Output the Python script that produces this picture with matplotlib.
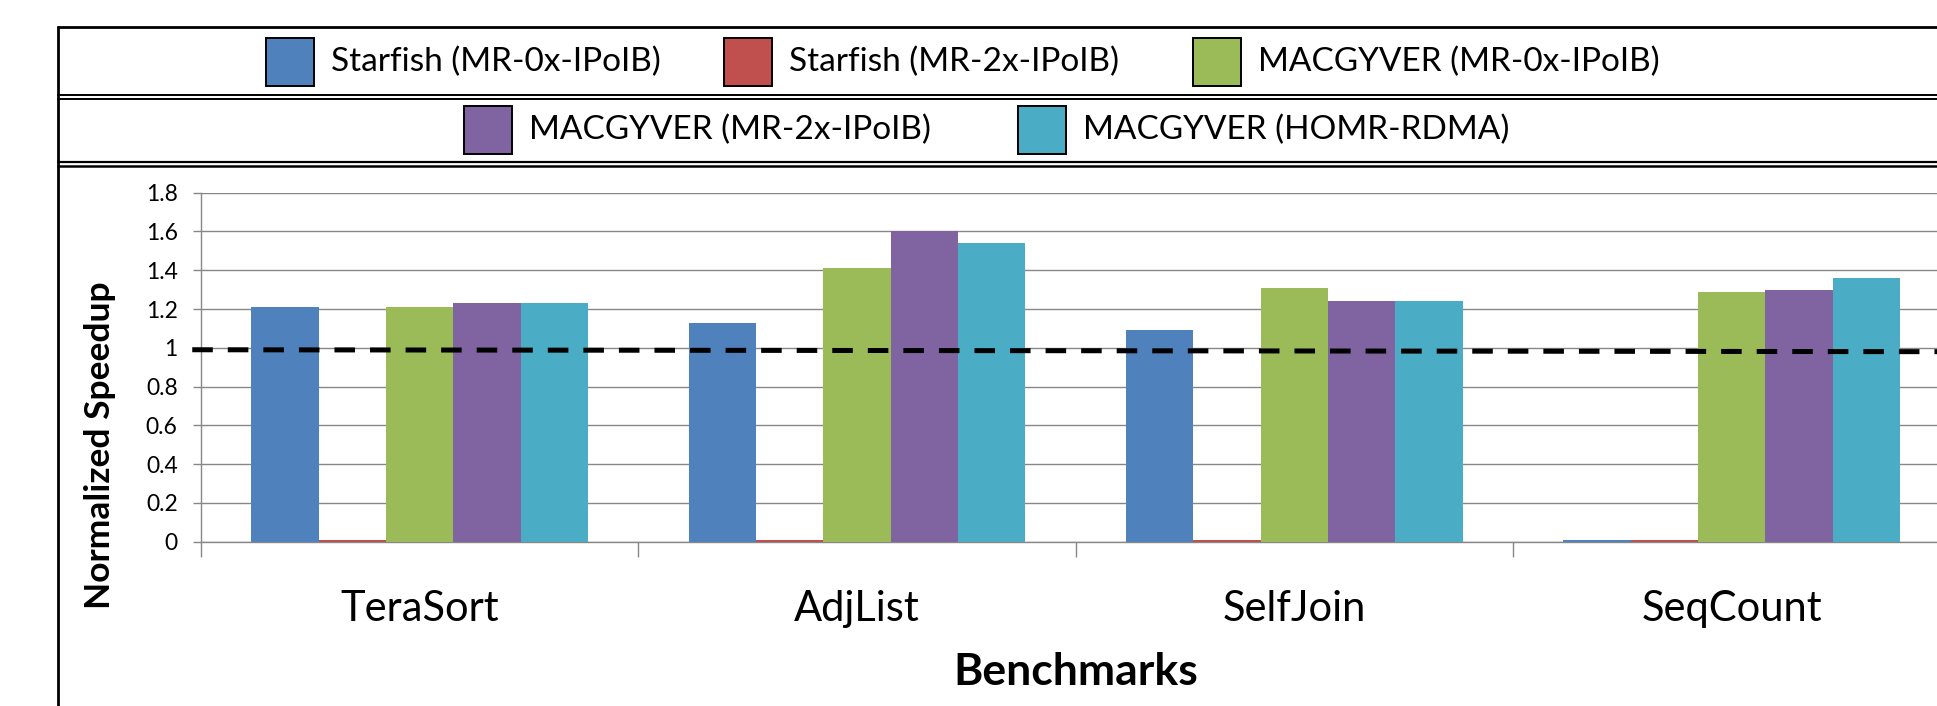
import matplotlib
matplotlib.use("Agg")
import matplotlib.pyplot as plt
import numpy as np
from matplotlib.lines import Line2D
from matplotlib.patches import Rectangle

plt.rcParams['font.family'] = ['Lato', 'DejaVu Sans']
plt.rcParams['lines.scale_dashes'] = False

# ---- data ----
categories = ["TeraSort", "AdjList", "SelfJoin", "SeqCount"]
series_names = ["Starfish (MR-0x-IPoIB)", "Starfish (MR-2x-IPoIB)",
                "MACGYVER (MR-0x-IPoIB)", "MACGYVER (MR-2x-IPoIB)",
                "MACGYVER (HOMR-RDMA)"]
starfish_mr0 = [1.21, 1.13, 1.09, 0.01]
starfish_mr2 = [0.01, 0.01, 0.01, 0.01]
macgyver_mr0 = [1.21, 1.41, 1.31, 1.29]
macgyver_mr2 = [1.23, 1.60, 1.24, 1.30]
macgyver_homr = [1.23, 1.54, 1.24, 1.36]
baseline = [0.99, 0.98]
yticks = [0, 0.2, 0.4, 0.6, 0.8, 1, 1.2, 1.4, 1.6, 1.8]
ytick_labels = ["0", "0.2", "0.4", "0.6", "0.8", "1", "1.2", "1.4", "1.6", "1.8"]

series = [starfish_mr0, starfish_mr2, macgyver_mr0, macgyver_mr2, macgyver_homr]
colors = ["#4F81BD", "#C0504D", "#9BBB59", "#8064A2", "#4BACC6"]

W, H = 1937, 706
fig = plt.figure(figsize=(W / 100, H / 100), dpi=100)

def fx(x):
    return x / W

def fy(y):
    return 1 - y / H

# plot area (pixel geometry)
ax_left, ax_right = 201, 201 + 4 * 437.3
ax_top, ax_bot = 192.7, 541.7
ax = fig.add_axes([fx(ax_left), fy(ax_bot), (ax_right - ax_left) / W, (ax_bot - ax_top) / H])

x = np.arange(len(categories))
bw = 0.154
for i, (vals, c, name) in enumerate(zip(series, colors, series_names)):
    ax.bar(x + (i - 2) * bw, vals, width=bw, color=c, linewidth=0, label=name, zorder=3)

ax.plot([-0.52, 3.5], baseline, color="black", lw=3.6, dashes=(14.8, 10.8),
        solid_capstyle="butt", dash_capstyle="butt", zorder=4, clip_on=False)

grid_c = "#878787"
ax.set_xlim(-0.5, 3.5)
ax.set_ylim(0, 1.8)
ax.set_yticks(yticks)
ax.set_yticklabels(ytick_labels)
ax.yaxis.grid(True, color=grid_c, lw=1.0, zorder=0)
ax.set_axisbelow(True)
for s in ["top", "right"]:
    ax.spines[s].set_visible(False)
for s in ["left", "bottom"]:
    ax.spines[s].set_color(grid_c)
    ax.spines[s].set_linewidth(1.0)
ax.tick_params(axis="y", direction="out", length=5.8, width=1.0, color=grid_c,
               pad=11, labelsize=16.5, labelcolor="black")
ax.set_xticks(x)
ax.set_xticklabels(categories)
ax.set_xticks(np.arange(-0.5, 4.0, 1.0), minor=True)
ax.tick_params(axis="x", which="major", length=0, pad=35, labelsize=30)
ax.tick_params(axis="x", which="minor", direction="out", length=10.8, width=1.0, color=grid_c)

ax.set_xlabel("Benchmarks", fontsize=32, fontweight="bold")
ax.xaxis.set_label_coords(0.5, (fy(672) - fy(ax_bot)) / ((ax_bot - ax_top) / H))
ax.xaxis.label.set_va("center")
ax.set_ylabel("Normalized Speedup", fontsize=25.5, fontweight="bold")
ax.yaxis.set_label_coords((100 - ax_left) / (ax_right - ax_left),
                          (fy(445) - fy(ax_bot)) / ((ax_bot - ax_top) / H))
ax.yaxis.label.set_va("center")
ax.yaxis.label.set_ha("center")

# ---- outer frame and legend rows ----
def hline(y, x0, x1, lw, color="black"):
    fig.add_artist(Line2D([fx(x0), fx(x1)], [fy(y), fy(y)], transform=fig.transFigure,
                          color=color, lw=lw, solid_capstyle="butt"))

hline(27, 57, W + 5, 2.0)
hline(94.5, 57, W + 5, 1.4)
hline(98.5, 57, W + 5, 1.4)
hline(162, 57, W + 5, 1.6)
hline(166, 57, W + 5, 1.8)
fig.add_artist(Line2D([fx(58), fx(58)], [fy(26), fy(H + 5)], transform=fig.transFigure,
                      color="black", lw=2.0, solid_capstyle="butt"))

# legend entries: (patch left x, row center y)
legend_pos = [(266, 62), (724, 62), (1193, 62), (464, 130), (1018, 130)]
psz = 48
for (px, py), c, name in zip(legend_pos, colors, series_names):
    fig.add_artist(Rectangle((fx(px), fy(py + psz / 2)), psz / W, psz / H,
                             transform=fig.transFigure, facecolor=c,
                             edgecolor="black", lw=1.4))
    fig.text(fx(px + psz + 17), fy(py), name, fontsize=24, va="center", ha="left")

fig.savefig("out.png", dpi=100)
